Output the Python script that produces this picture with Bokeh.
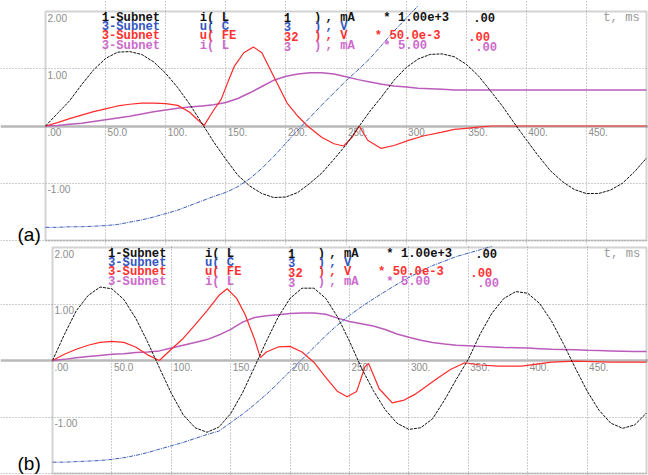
from bokeh.plotting import figure
from bokeh.layouts import column
from bokeh.models import Label, Range1d, FixedTicker, ColumnDataSource, Grid, BoxAnnotation
from bokeh.core.properties import value
from bokeh.embed import file_html
from bokeh.resources import INLINE

# ---------------- data ----------------
# panel (a)
ta = list(range(0, 501, 10))
a_iL1 = [0, 0.22, 0.44, 0.72, 0.98, 1.18, 1.29, 1.30, 1.25, 1.12,
         0.92, 0.67, 0.38, 0.05, -0.28, -0.58, -0.86, -1.05, -1.18, -1.25,
         -1.24, -1.16, -1.00, -0.82, -0.58, -0.33, -0.03, 0.26, 0.52, 0.80,
         1.02, 1.17, 1.25, 1.26, 1.21, 1.08, 0.88, 0.62, 0.35, 0.05,
         -0.24, -0.52, -0.78, -0.97, -1.11, -1.18, -1.18, -1.12, -1.00, -0.80,
         -0.56]
ta_uC = list(range(0, 311, 10))
a_uC = [-1.77, -1.77, -1.76, -1.76, -1.75, -1.74, -1.72, -1.68, -1.64, -1.59,
        -1.53, -1.47, -1.39, -1.31, -1.23, -1.16, -1.06, -0.92, -0.74, -0.53,
        -0.30, -0.07, 0.15, 0.37, 0.58, 0.79, 0.98, 1.18, 1.42, 1.66,
        1.88, 2.10]
ta_uFE = [0, 10, 20, 30, 40, 50, 60, 70, 80, 90,
          100, 110, 120, 127, 132, 140, 146, 152, 157, 165,
          173, 180, 190, 201, 210, 218, 230, 240, 248, 255,
          261, 268, 279, 290, 302, 315, 329, 340, 350, 360,
          371, 400, 450, 500]
a_uFE = [0, 0.06, 0.13, 0.19, 0.25, 0.30, 0.35, 0.38, 0.40, 0.40,
         0.39, 0.36, 0.24, 0.10, 0.01, 0.28, 0.46, 0.78, 1.04, 1.28,
         1.38, 1.28, 0.86, 0.40, 0.17, 0.0, -0.20, -0.31, -0.35, -0.20,
         0.0, -0.25, -0.39, -0.34, -0.25, -0.17, -0.11, -0.06, -0.04, -0.02,
         0.0, 0.0, 0.0, 0.0]
a_iL3 = [0, 0.01, 0.03, 0.05, 0.08, 0.11, 0.14, 0.17, 0.21, 0.25,
         0.28, 0.31, 0.33, 0.35, 0.37, 0.41, 0.48, 0.58, 0.69, 0.80,
         0.87, 0.91, 0.93, 0.93, 0.91, 0.86, 0.81, 0.77, 0.73, 0.70,
         0.68, 0.66, 0.65, 0.64, 0.63, 0.63, 0.63, 0.63, 0.63, 0.63,
         0.63, 0.63, 0.63, 0.63, 0.63, 0.63, 0.63, 0.63, 0.63, 0.63,
         0.63]

# panel (b)
tb = list(range(0, 501, 10))
b_iL1 = [0, 0.46, 0.88, 1.15, 1.30, 1.27, 1.08, 0.75, 0.33, -0.13,
         -0.58, -0.96, -1.19, -1.27, -1.18, -0.94, -0.57, -0.12, 0.34, 0.77,
         1.10, 1.28, 1.28, 1.10, 0.77, 0.34, -0.13, -0.53, -0.87, -1.11,
         -1.22, -1.19, -1.03, -0.70, -0.33, 0.02, 0.47, 0.84, 1.10, 1.22,
         1.19, 1.01, 0.70, 0.30, -0.13, -0.54, -0.88, -1.11, -1.20, -1.14,
         -0.93]
tb_uC = list(range(0, 371, 10))
b_uC = [-1.80, -1.80, -1.79, -1.78, -1.77, -1.75, -1.72, -1.68, -1.63, -1.57,
        -1.51, -1.45, -1.38, -1.31, -1.25, -1.10, -0.95, -0.78, -0.60, -0.40,
        -0.19, 0.02, 0.23, 0.44, 0.63, 0.80, 0.95, 1.09, 1.22, 1.35,
        1.47, 1.58, 1.68, 1.76, 1.84, 1.90, 1.96, 2.02]
tb_uFE = [0, 10, 20, 30, 40, 50, 60, 70, 80, 90,
          100, 110, 120, 130, 140, 147, 155, 162, 170, 175,
          180, 190, 200, 210, 220, 230, 240, 248, 256, 263,
          266, 275, 286, 296, 305, 315, 325, 335, 347, 360,
          375, 395, 420, 440, 470, 500]
b_uFE = [0, 0.11, 0.20, 0.27, 0.32, 0.34, 0.32, 0.24, 0.10, 0.0,
         0.20, 0.39, 0.63, 0.88, 1.15, 1.27, 1.10, 0.82, 0.38, 0.05,
         0.15, 0.24, 0.25, 0.15, -0.03, -0.30, -0.55, -0.64, -0.55, -0.11,
         -0.05, -0.50, -0.75, -0.70, -0.60, -0.45, -0.30, -0.16, -0.04, -0.08,
         -0.10, -0.10, -0.03, -0.01, -0.03, -0.03]
b_iL3 = [0, 0.02, 0.05, 0.07, 0.09, 0.11, 0.12, 0.14, 0.15, 0.17,
         0.22, 0.27, 0.32, 0.37, 0.45, 0.55, 0.68, 0.76, 0.79, 0.81,
         0.83, 0.84, 0.84, 0.82, 0.75, 0.69, 0.65, 0.61, 0.55, 0.47,
         0.41, 0.36, 0.32, 0.29, 0.27, 0.26, 0.25, 0.24, 0.23, 0.225,
         0.22, 0.21, 0.20, 0.195, 0.19, 0.18, 0.175, 0.17, 0.165, 0.16,
         0.16]

# ticks
x_ticks = [0, 50, 100, 150, 200, 250, 300, 350, 400, 450]
x_tick_labels = [".00", "50.0", "100.", "150.", "200.", "250.", "300.", "350.", "400.", "450."]
y_ticks = [2, 1, -1]
y_tick_labels = ["2.00", "1.00", "-1.00"]

# legend rows: colour, texts, column positions (ms units)
legend_rows = [
    ("#111111", ["1-Subnet", "i( L", "1", ")", ", mA", "* 1.00e+3", ".00"],
     [46.7, 128.3, 198.3, 223.3, 233.0, 281.0, 355.8]),
    ("#3456c0", ["3-Subnet", "u( C", "3", ")", ", V"],
     [46.7, 128.3, 198.3, 223.3, 233.0]),
    ("#ff3030", ["3-Subnet", "u( FE", "32", ")", ", V", "* 50.0e-3", ".00"],
     [46.7, 128.3, 198.3, 223.3, 233.0, 274.0, 351.7]),
    ("#cc6acc", ["3-Subnet", "i( L", "3", ")", ", mA", "* 5.00", ".00"],
     [46.7, 128.3, 198.3, 223.3, 233.0, 281.0, 357.5]),
]
row_offsets_px = [6.0, 15.4, 24.8, 34.5]

C_BLACK = "#111111"
C_BLUE = "#3a5cb6"
C_RED = "#ff2a2a"
C_PURPLE = "#bb5cbb"
W = 648


def make_panel(h, fl, fr, ft, fb, series, tag, tag_px):
    sx = (fr - fl) / 500.0
    sy = (fb - ft) / 4.0
    y0 = ft + 2 * sy
    p = figure(width=W, height=h,
               x_range=Range1d(-fl / sx, (W - fl) / sx),
               y_range=Range1d(-(h - y0) / sy, y0 / sy),
               output_backend="svg", toolbar_location=None,
               x_axis_location=None, y_axis_location=None, min_border=0)
    p.min_border_left = p.min_border_right = p.min_border_top = p.min_border_bottom = 0
    p.background_fill_color = "white"
    p.border_fill_color = "white"
    p.outline_line_color = None
    p.xgrid.visible = False
    p.ygrid.visible = False

    p.add_layout(Grid(dimension=0, ticker=FixedTicker(ticks=x_ticks[1:]), bounds=(-2, 2),
                      grid_line_color="#9c9c9c", grid_line_dash="1 2", grid_line_width=1))
    p.add_layout(Grid(dimension=1, ticker=FixedTicker(ticks=[-2, -1, 1]), bounds=(0, 500),
                      grid_line_color="#9c9c9c", grid_line_dash="1 2", grid_line_width=1))
    p.add_layout(Grid(dimension=1, ticker=FixedTicker(ticks=[0]), bounds=(0, 500),
                      grid_line_color="#b8b8b8", grid_line_width=2.5))
    p.add_layout(BoxAnnotation(left=0, right=500, bottom=-2, top=2, fill_alpha=0,
                               line_color="#6e6e6e", line_width=2))

    src_x = ColumnDataSource(dict(x=x_ticks, y=[0] * len(x_ticks), t=x_tick_labels))
    p.text(x="x", y="y", text="t", source=src_x, x_offset=2, y_offset=2,
           text_font=value("Liberation Sans"), text_font_size="10px",
           text_color="#8c8c8c", text_baseline="top", text_align="left")
    src_y = ColumnDataSource(dict(x=[0] * len(y_ticks), y=y_ticks, t=y_tick_labels))
    p.text(x="x", y="y", text="t", source=src_y, x_offset=2, y_offset=2,
           text_font=value("Liberation Sans"), text_font_size="10px",
           text_color="#8c8c8c", text_baseline="top", text_align="left")

    (tk, k), (tc, c), (tf, f), (tl, l) = series
    p.line(tl, l, line_color=C_PURPLE, line_width=1.5)
    p.line(tf, f, line_color=C_RED, line_width=1.2)
    p.line(tc, c, line_color=C_BLUE, line_width=1, line_dash="4 1 1 1")
    p.line(tk, k, line_color=C_BLACK, line_width=1, line_dash="3 1")

    for (col, texts, xs), off in zip(legend_rows, row_offsets_px):
        for txt, xv in zip(texts, xs):
            p.add_layout(Label(x=xv, y=2.0 - off / sy, text=txt,
                               text_font="Liberation Mono", text_font_size="12.2px",
                               text_font_style="bold",
                               text_color=col, text_baseline="middle", text_align="left"))
    p.add_layout(Label(x=464, y=2.0 - row_offsets_px[0] / sy, text="t, ms",
                       text_font="Liberation Mono", text_font_size="12.2px",
                       text_color="#9a9a9a", text_baseline="middle", text_align="left"))
    p.add_layout(Label(x=(tag_px[0] - fl) / sx, y=(y0 - tag_px[1]) / sy, text=tag,
                       text_font="Liberation Sans", text_font_size="19px",
                       text_color="#000000", text_baseline="middle", text_align="left"))
    return p


pa = make_panel(245, 45, 646, 11, 240,
                [(ta, a_iL1), (ta_uC, a_uC), (ta_uFE, a_uFE), (ta, a_iL3)],
                "(a)", (17, 234))
pb = make_panel(230, 52, 646, 2, 228,
                [(tb, b_iL1), (tb_uC, b_uC), (tb_uFE, b_uFE), (tb, b_iL3)],
                "(b)", (17, 218))

layout = column(pa, pb, spacing=0)
open("out.html", "w").write(file_html(layout, INLINE))
